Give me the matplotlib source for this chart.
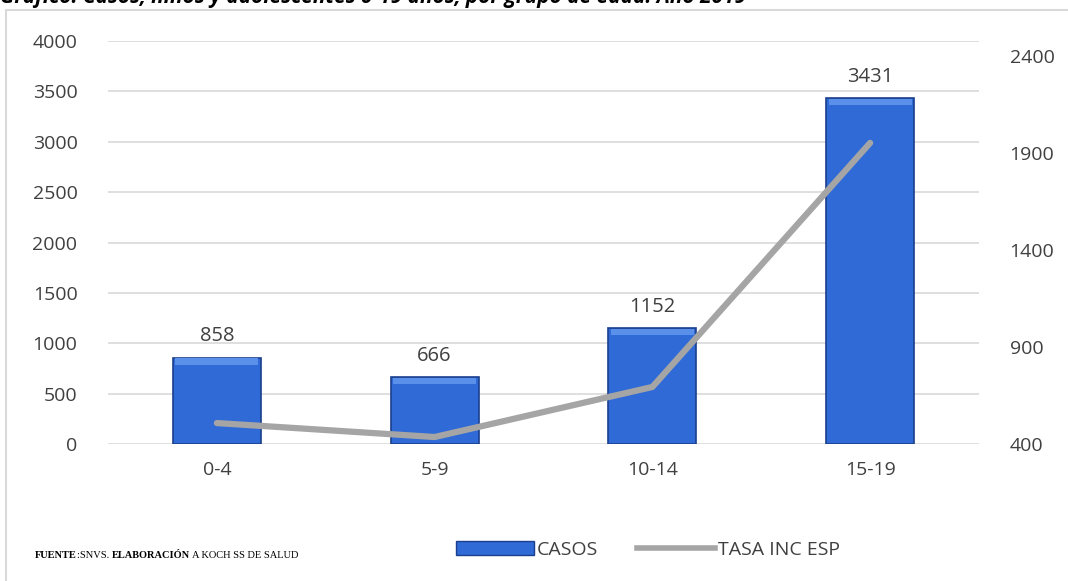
import matplotlib.pyplot as plt
from matplotlib.patches import Rectangle
from matplotlib.lines import Line2D

grupos = ['0-4', '5-9', '10-14', '15-19']
casos = [858, 666, 1152, 3431]
tasa = [508, 436, 694, 1952]

casos_ticks = [0, 500, 1000, 1500, 2000, 2500, 3000, 3500, 4000]
tasa_ticks = [400, 900, 1400, 1900, 2400]

plt.rcParams['font.family'] = ['Open Sans', 'DejaVu Sans']
texto = '#404040'

fig = plt.figure(figsize=(10.68, 5.81), dpi=100)
ax = fig.add_axes([108 / 1068, 1 - 444 / 581, (979 - 108) / 1068, (444 - 41) / 581])

x = range(len(grupos))
bars = ax.bar(x, casos, width=0.405, color='#2F6AD6', edgecolor='#1B3F8C',
              linewidth=1.2, zorder=2)
for b, v in zip(bars, casos):
    # bevel highlight on top of each bar
    ax.add_patch(Rectangle((b.get_x() + 0.012, v - 70), b.get_width() - 0.024, 62,
                           color='#5A8FEA', lw=0, zorder=3))
    ax.text(b.get_x() + b.get_width() / 2, v + 110, str(v), ha='center', va='bottom',
            fontsize=14.5, color=texto)

ax.set_xlim(-0.5, 3.5)
ax.set_ylim(0, 4000)
ax.set_yticks(casos_ticks)
ax.set_xticks(list(x))
ax.set_xticklabels(grupos)
ax.grid(axis='y', color='#D9D9D9', linewidth=1.2, zorder=0)
ax.set_axisbelow(True)
for s in ax.spines.values():
    s.set_visible(False)
ax.tick_params(length=0, labelsize=14, colors=texto, pad=12)
ax.tick_params(axis='y', pad=22)

ax2 = ax.twinx()
ax2.plot(x, tasa, color='#A5A5A5', linewidth=4.5, solid_capstyle='round', zorder=4)
ax2.set_ylim(400, 400 + 403 / 0.194)
ax2.set_yticks(tasa_ticks)
for s in ax2.spines.values():
    s.set_visible(False)
ax2.tick_params(length=0, labelsize=14, colors=texto, pad=22)

# outer frame of the chart area
fig.patches.append(Rectangle((6 / 1068, -0.05), 1.1, 1 - 10 / 581 + 0.05,
                             transform=fig.transFigure, fill=False,
                             edgecolor='#D9D9D9', linewidth=1.5))

# title, partly above the top edge
fig.text(0.0, 1 - 3 / 581, 'Gráfico: Casos, niños y adolescentes 0-19 años, por grupo de edad. Año 2019',
         fontsize=15, fontweight='bold', fontstyle='italic', color='black',
         ha='left', va='baseline')

# source line, pieces chained one after another
piezas = [('FUENTE', 'bold'), (':SNVS. ', 'normal'), ('ELABORACIÓN', 'bold'),
          (' A KOCH SS DE SALUD', 'normal')]
prev = fig.text(35 / 1068, 1 - 560 / 581, piezas[0][0], fontsize=7.5,
                fontweight=piezas[0][1], family='Liberation Serif', va='bottom')
for t, w in piezas[1:]:
    prev = ax.annotate(t, xy=(1, 0), xycoords=prev, fontsize=7.5, fontweight=w,
                       family='Liberation Serif', va='bottom', ha='left',
                       annotation_clip=False)

handles = [Rectangle((0, 0), 1, 1, facecolor='#2F6AD6', edgecolor='#1B3F8C'),
           Line2D([0], [0], color='#A5A5A5', linewidth=4)]
fig.legend(handles, ['CASOS', 'TASA INC ESP'], loc='center',
           bbox_to_anchor=(648 / 1068, 1 - 550 / 581), ncol=2, frameon=False,
           fontsize=14, labelcolor=texto, handlelength=4.0, handleheight=0.7,
           handletextpad=0.15, columnspacing=2.0)

fig.savefig('out.png', dpi=100)
